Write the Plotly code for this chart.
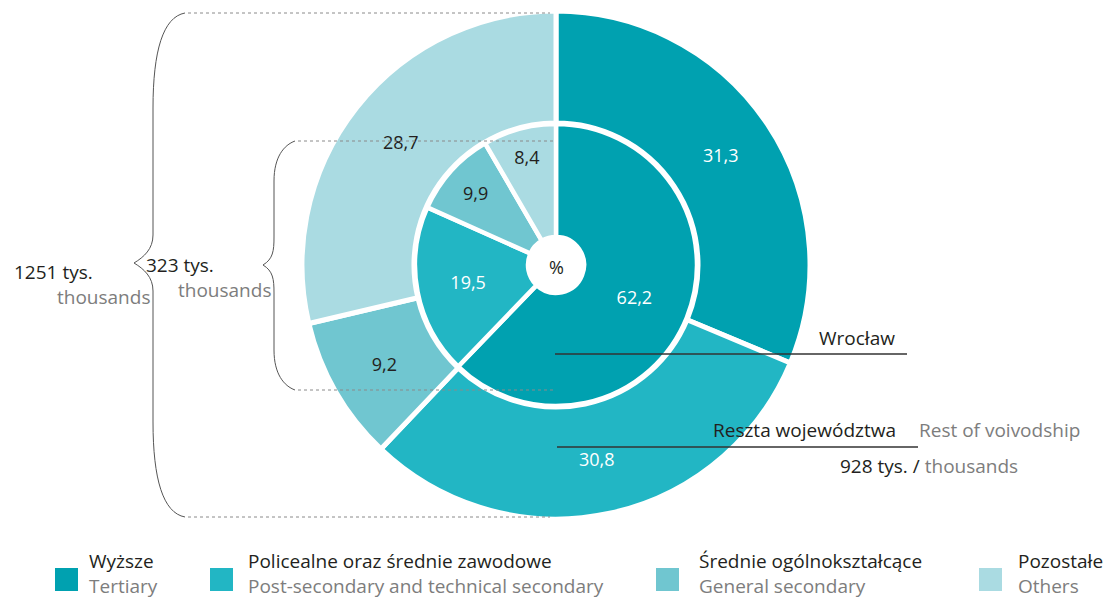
import plotly.graph_objects as go

# ---------------- data ----------------
categories_pl = ["Wyższe", "Policealne oraz średnie zawodowe", "Średnie ogólnokształcące", "Pozostałe"]
categories_en = ["Tertiary", "Post-secondary and technical secondary", "General secondary", "Others"]
wroclaw_pct = [62.2, 19.5, 9.9, 8.4]
rest_pct = [31.3, 30.8, 9.2, 28.7]
total_thousands = 1251
wroclaw_thousands = 323
rest_thousands = 928

# ---------------- style / layout constants ----------------
W, H = 1104, 601
colors = ["#00a1b0", "#22b6c4", "#70c6d0", "#aadbe2"]
label_colors = ["#ffffff", "#ffffff", "#231f20", "#231f20"]
BLACK = "#231f20"
GRAY = "#7d7d7d"
FONT = "Open Sans"
TXT = 19

CX, CY = 556, 265          # centre of the rings (px)
R_OUT, R_IN, R_CENTER = 254, 141, 28
LEGEND_SQ_X = [55, 210, 656, 979]
LEGEND_TXT_X = [87, 246, 697, 1016]


def fx(x):
    return x / W


def fy(y):
    return 1 - y / H


def dom(r):
    return dict(x=[fx(CX - r), fx(CX + r)], y=[fy(CY + r), fy(CY - r)])


def fmt(v):
    return f"{v:.1f}".replace(".", ",")


fig = go.Figure()

fig.add_trace(go.Pie(
    values=rest_pct, labels=categories_en, text=[fmt(v) for v in rest_pct],
    textinfo="text", textposition="inside", insidetextorientation="horizontal",
    textfont=dict(family=FONT, size=18, color=label_colors),
    marker=dict(colors=colors, line=dict(color="white", width=5)),
    hole=(R_IN + 1) / R_OUT, sort=False, direction="clockwise", rotation=0,
    domain=dom(R_OUT), showlegend=False, hoverinfo="label+value",
))

fig.add_trace(go.Pie(
    values=wroclaw_pct, labels=categories_en, text=[fmt(v) for v in wroclaw_pct],
    textinfo="text", textposition="inside", insidetextorientation="horizontal",
    textfont=dict(family=FONT, size=18, color=label_colors),
    marker=dict(colors=colors, line=dict(color="white", width=4.5)),
    hole=R_CENTER / R_IN, sort=False, direction="clockwise", rotation=0,
    domain=dom(R_IN), showlegend=False, hoverinfo="label+value",
))

shapes = []
annotations = []


def line(x0, y0, x1, y1, color, width, dash="solid"):
    shapes.append(dict(type="line", xref="paper", yref="paper",
                       x0=fx(x0), y0=fy(y0), x1=fx(x1), y1=fy(y1),
                       line=dict(color=color, width=width, dash=dash)))


def path(pts):
    s = ""
    for cmd, ps in pts:
        s += cmd + " ".join(f"{fx(x):.5f},{fy(y):.5f}" for x, y in ps) + " "
    shapes.append(dict(type="path", xref="paper", yref="paper", path=s.strip(),
                       line=dict(color="#555555", width=1)))


def text(x, y, t, size=TXT, color=BLACK, xanchor="left", align="left"):
    annotations.append(dict(x=fx(x), y=fy(y), xref="paper", yref="paper", text=t,
                            showarrow=False, xanchor=xanchor, yanchor="middle", align=align,
                            font=dict(family=FONT, size=size, color=color)))


def brace(x_end, y_top, y_bot, x_mid, x_tip, y_tip, bend):
    path([
        ("M", [(x_end, y_top)]),
        ("C", [(x_mid + 10, y_top + 4), (x_mid, y_top + bend * 0.4), (x_mid, y_top + bend)]),
        ("L", [(x_mid, y_tip - 28)]),
        ("C", [(x_mid, y_tip - 14), (x_tip + 10, y_tip - 6), (x_tip, y_tip)]),
        ("C", [(x_tip + 10, y_tip + 6), (x_mid, y_tip + 14), (x_mid, y_tip + 28)]),
        ("L", [(x_mid, y_bot - bend)]),
        ("C", [(x_mid, y_bot - bend * 0.4), (x_mid + 10, y_bot - 4), (x_end, y_bot)]),
    ])


# braces + dotted guides
brace(185, 13, 517, 153, 134, 263, 95)
line(188, 13, 550, 13, "#8a8a8a", 1, "3px,3px")
line(188, 517, 550, 517, "#8a8a8a", 1, "3px,3px")
brace(295, 141, 390, 274, 263, 265, 40)
line(298, 141, 553, 141, "#8a8a8a", 1, "3px,3px")
line(298, 390, 553, 390, "#8a8a8a", 1, "3px,3px")

# totals text
text(12, 272, f"{total_thousands} tys.")
text(152, 297, "thousands", color=GRAY, xanchor="right")
text(144, 265, f"{wroclaw_thousands} tys.")
text(273, 290, "thousands", color=GRAY, xanchor="right")

# ring labels
line(555, 354, 907, 354, "#333333", 1.5)
text(897, 338, "Wrocław", xanchor="right")
line(557, 447, 918, 447, "#333333", 1.5)
text(898, 430, "Reszta województwa", xanchor="right")
text(917, 430, "Rest of voivodship", color=GRAY)
text(929, 466, f"{rest_thousands} tys. / <span style='color:{GRAY}'>thousands</span>", xanchor="center")

# centre
text(CX, CY + 2, "%", size=18, xanchor="center")

# legend
for i in range(len(categories_pl)):
    shapes.append(dict(type="rect", xref="paper", yref="paper",
                       x0=fx(LEGEND_SQ_X[i]), x1=fx(LEGEND_SQ_X[i] + 23),
                       y0=fy(591), y1=fy(568), fillcolor=colors[i], line=dict(width=0)))
    text(LEGEND_TXT_X[i], 573,
         f"{categories_pl[i]}<br><span style='color:{GRAY}'>{categories_en[i]}</span>")

fig.update_layout(
    width=W, height=H, margin=dict(l=0, r=0, t=0, b=0),
    paper_bgcolor="white", plot_bgcolor="white",
    shapes=shapes, annotations=annotations, showlegend=False,
    font=dict(family=FONT),
)

fig.write_html("out.html", config={"displayModeBar": False},
               post_script="document.body.style.margin='0px';document.body.style.overflow='hidden';")
